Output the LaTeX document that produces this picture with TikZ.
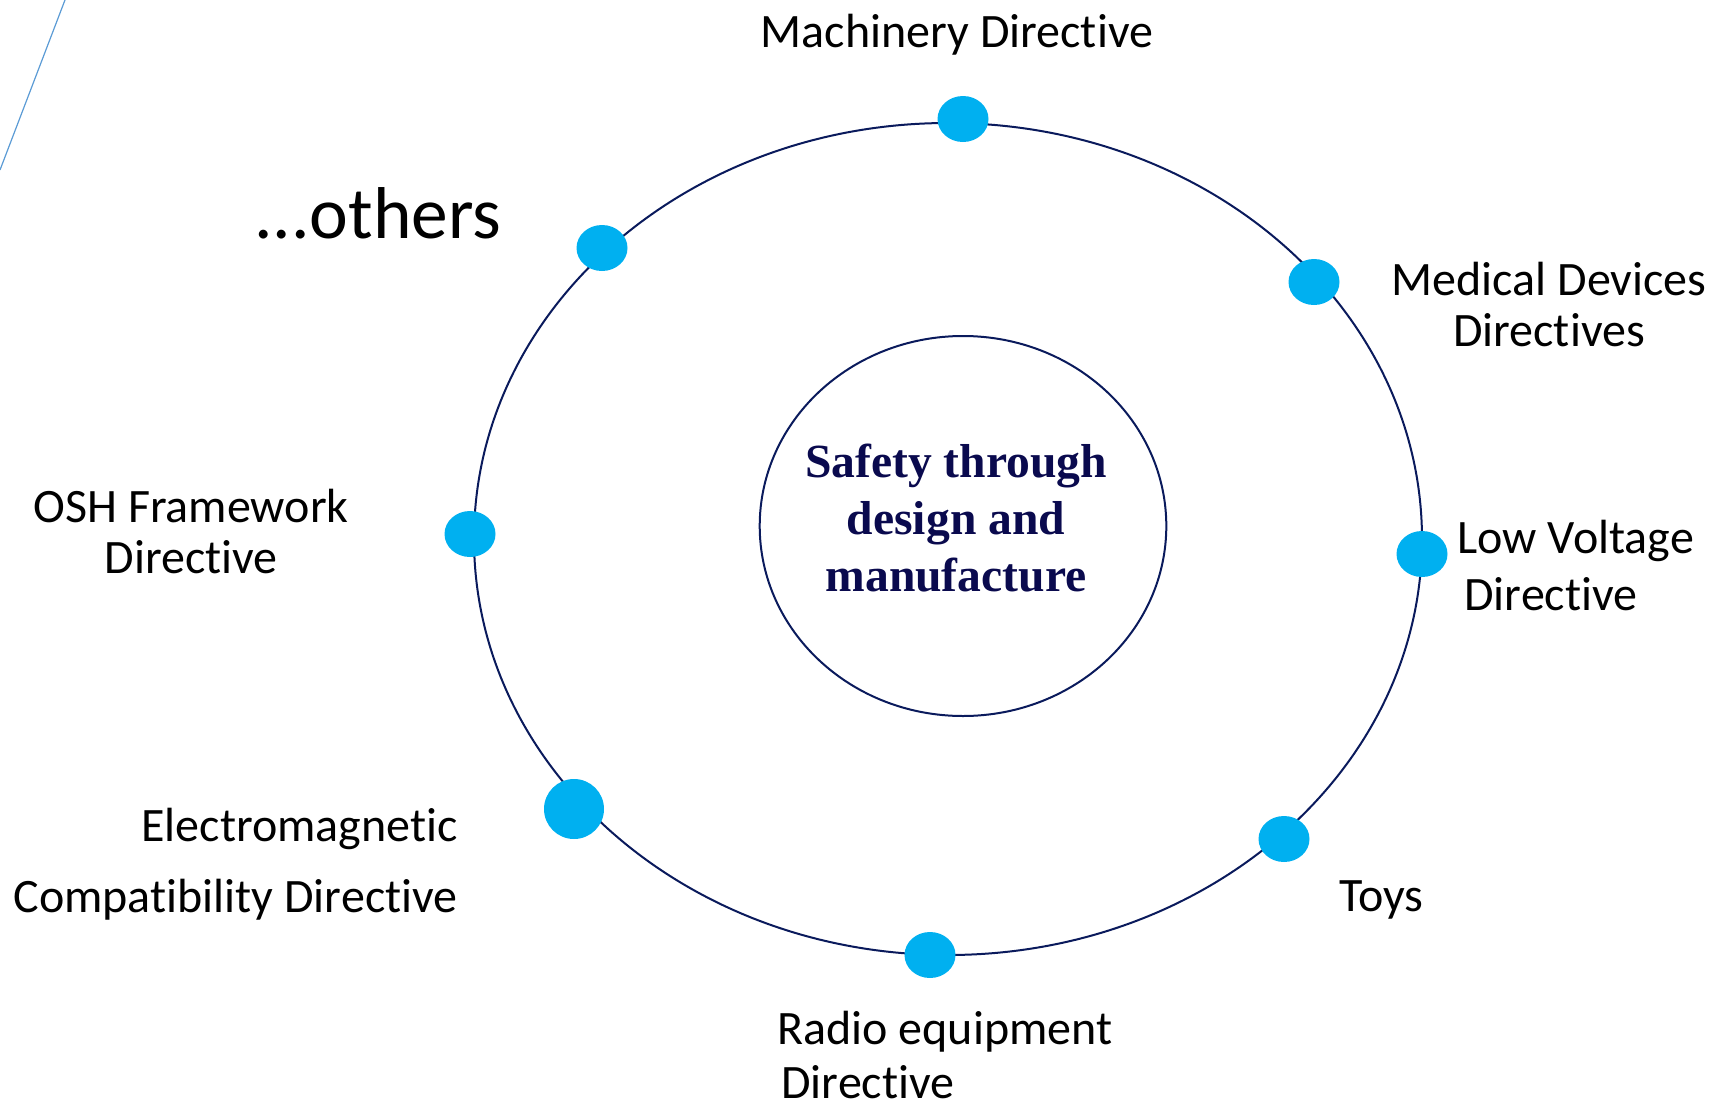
\documentclass[tikz,border=0pt]{standalone}
\usepackage{fontspec}
\setmainfont{Carlito}[Ligatures=NoCommon]
\newfontfamily\centerfont{Liberation Serif}
\usetikzlibrary{shapes.geometric}
\definecolor{navyline}{HTML}{0A1A5C}
\definecolor{navytext}{HTML}{0A0A4E}
\definecolor{dotblue}{HTML}{00B0F0}
\definecolor{edgeblue}{HTML}{5B9BD5}
\begin{document}
\begin{tikzpicture}[x=0.5pt,y=-0.5pt,
  ring/.style={draw=navyline, line width=1pt, ellipse, inner sep=0pt},
  dot/.style={fill=dotblue, draw=none, ellipse, inner sep=0pt, minimum width=25.5pt, minimum height=23pt},
  bigdot/.style={dot, minimum width=30pt, minimum height=30pt},
  lbl/.style={inner sep=0pt, font=\fontsize{24}{25.5}\selectfont, text=black},
  centre/.style={inner sep=0pt, align=center, text=navytext, font=\centerfont\bfseries\fontsize{23.8}{28.5}\selectfont}
]
\useasboundingbox (0,0) rectangle (1713,1108);
% thin edge line at top left
\coordinate (e1) at (65,0);
\coordinate (e2) at (0,170);
\draw[edgeblue, line width=0.6pt] (e1) -- (e2);
% rings
\node[ring, minimum width=474pt, minimum height=416pt] (outer) at (948,539) {};
\node[ring, minimum width=203.3pt, minimum height=190pt] (inner) at (963,526) {};
\node[centre, anchor=base] (core) at (956,591) {Safety through\\design and\\manufacture};
% dots
\node[dot] (dmach) at (963,119) {};
\node[dot] (dmed) at (1314,282) {};
\node[dot] (dlv) at (1422,554) {};
\node[dot] (dtoys) at (1284,839) {};
\node[dot] (dradio) at (930,955) {};
\node[bigdot] (demc) at (574,809) {};
\node[dot] (dosh) at (470,534) {};
\node[dot] (doth) at (602,248) {};
% labels (multi-line nodes: base = baseline of last line)
\node[lbl, anchor=base] (lmach) at (957,47) {Machinery Directive};
\node[lbl, anchor=base, font=\fontsize{36.7}{40}\selectfont] (loth) at (378,238) {...others};
\node[lbl, anchor=base, align=center] (lmed) at (1549,346) {Medical Devices\\Directives};
\node[lbl, anchor=base west, align=left, font=\fontsize{24}{28.5}\selectfont] (llv) at (1457,610) {Low Voltage\\\hspace*{3.5pt}Directive};
\node[lbl, anchor=base, align=center] (losh) at (191,573) {OSH Framework\\Directive};
\node[lbl, anchor=base east, align=right, font=\fontsize{24}{35.5}\selectfont] (lemc) at (458,912) {Electromagnetic\\Compatibility Directive};
\node[lbl, anchor=base west] (ltoys) at (1339,911) {Toys};
\node[lbl, anchor=base west, align=left, font=\fontsize{24}{27}\selectfont] (lradio) at (777,1098) {Radio equipment\\\hspace*{2pt}Directive};
\end{tikzpicture}
\end{document}
